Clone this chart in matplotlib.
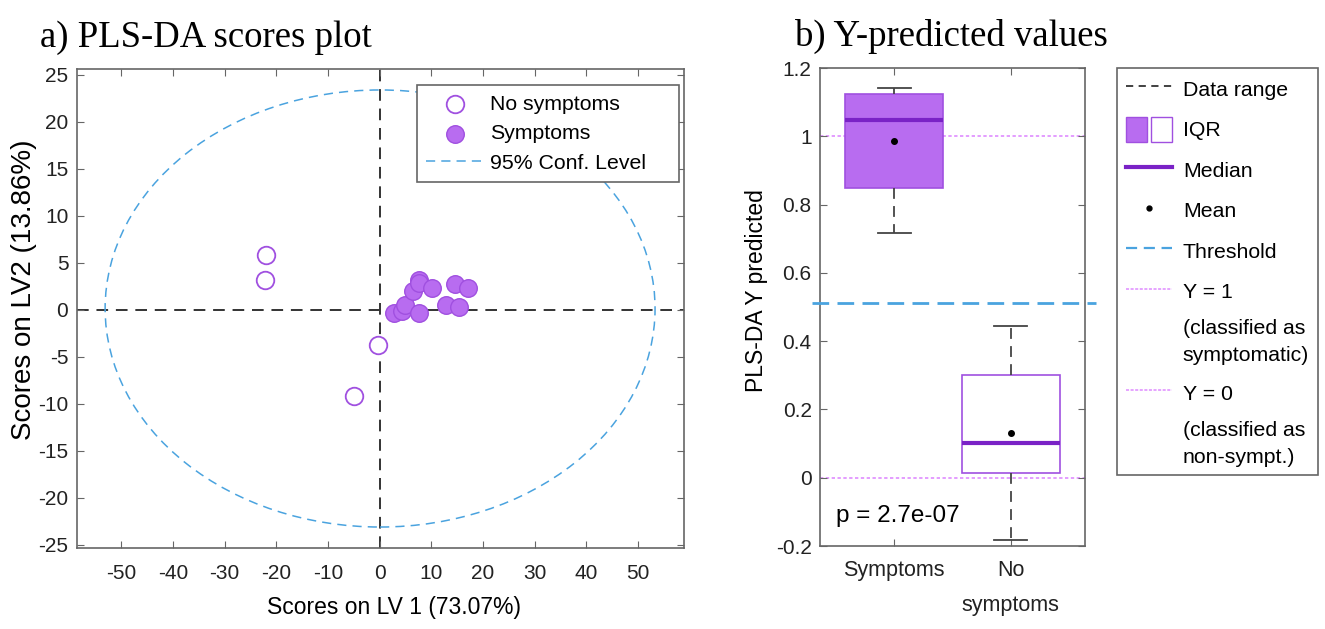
# -*- coding: utf-8 -*-

import matplotlib
matplotlib.use('Agg')
import matplotlib.pyplot as plt
import numpy as np
from matplotlib.patches import Ellipse, Patch
from matplotlib.lines import Line2D
from matplotlib.legend_handler import HandlerTuple
import matplotlib.transforms as mtrans

plt.rcParams['font.family'] = ['Liberation Sans', 'DejaVu Sans']
plt.rcParams['axes.unicode_minus'] = False

# a) scores
no_sym_lv1 = [-22.0, -22.1, -0.4, -4.9]
no_sym_lv2 = [5.8, 3.2, -3.7, -9.2]
sym_lv1 = [2.7, 4.3, 4.9, 7.7, 6.4, 7.7, 7.7, 10.1, 14.6, 17.1, 12.9, 15.3]
sym_lv2 = [-0.35, -0.1, 0.5, -0.3, 2.0, 3.2, 2.9, 2.3, 2.8, 2.3, 0.5, 0.35]
ell_center = (0.1, 0.15)
ell_radius = (53.2, 23.25)

# b) predicted values
groups = ['Symptoms', 'No\nsymptoms']
q1 = [0.849, 0.013]
q3 = [1.124, 0.300]
med = [1.047, 0.103]
mean = [0.987, 0.132]
whislo = [0.716, -0.181]
whishi = [1.140, 0.445]
threshold = 0.513
p_text = 'p = 2.7e-07'

purple = '#b86cf0'
purple_edge = '#a050e0'
median_col = '#7a22c6'
blue = '#4aa3df'
pink = '#df8cff'
grey = '#666666'

fig = plt.figure(figsize=(13.25, 6.29), dpi=100)

ax1 = fig.add_axes([76.7/1325, 1-547.7/629, (684-76.7)/1325, (547.7-69.3)/629])
ax1.axvline(0, color='#333333', ls=(0, (6, 4)), lw=1.4, zorder=1)
ax1.axhline(0, color='#333333', ls=(0, (6, 4)), lw=1.4, zorder=1)
ax1.add_patch(Ellipse(ell_center, 2*ell_radius[0], 2*ell_radius[1], fill=False,
                      ec=blue, ls=(0, (6, 4)), lw=1.1, zorder=1))
ax1.scatter(no_sym_lv1, no_sym_lv2, s=160, facecolor='white', edgecolor=purple_edge,
            lw=1.3, zorder=3, label='No symptoms')
ax1.scatter(sym_lv1, sym_lv2, s=160, facecolor=purple, edgecolor=purple_edge,
            lw=1.0, zorder=3, label='Symptoms')
h_conf = Line2D([], [], color=blue, ls=(0, (6, 4)), lw=1.1)
h1, l1 = ax1.get_legend_handles_labels()
leg1 = ax1.legend(h1 + [h_conf], l1 + ['95% Conf. Level    '], loc='upper right',
                  bbox_to_anchor=(0.992, 0.967), borderaxespad=0, fontsize=15.3,
                  labelspacing=0.5, handlelength=2.7, handletextpad=0.3,
                  borderpad=0.45, fancybox=False, framealpha=1, edgecolor=grey)
leg1.get_frame().set_linewidth(1.2)
ax1.set_xlim(-58.6, 58.9)
ax1.set_ylim(-25.3, 25.6)
ax1.set_xticks(np.arange(-50, 51, 10))
ax1.set_yticks(np.arange(-25, 26, 5))
ax1.set_xlabel('Scores on LV 1 (73.07%)', fontsize=16.5)
ax1.set_ylabel('Scores on LV2 (13.86%)', fontsize=20)
ax1.xaxis.set_label_coords(0.522, -0.1)
ax1.yaxis.set_label_coords(-0.066, 0.54)
ax1.set_title('a) PLS-DA scores plot', family=['Liberation Serif'], fontsize=26.5,
              loc='left', x=-0.06, pad=16)

ax2 = fig.add_axes([820/1325, 1-546/629, 265/1325, (546-68)/629])
stats = []
for i in range(len(groups)):
    stats.append(dict(med=med[i], q1=q1[i], q3=q3[i], whislo=whislo[i],
                      whishi=whishi[i], mean=mean[i], fliers=[], label=groups[i]))
bp = ax2.bxp(stats, positions=[1, 2], widths=0.84, patch_artist=True, showmeans=True,
             showfliers=False,
             whiskerprops=dict(color='#444444', ls=(0, (6, 4)), lw=1.3),
             capprops=dict(color='#444444', lw=1.3), capwidths=0.28,
             medianprops=dict(color=median_col, lw=3),
             meanprops=dict(marker='o', markerfacecolor='black', markeredgecolor='black',
                            markersize=4), zorder=2)
bp['boxes'][0].set(facecolor=purple, edgecolor=purple_edge, lw=1.2)
bp['boxes'][1].set(facecolor='white', edgecolor=purple_edge, lw=1.2)
ax2.axhline(1, color=pink, ls=(0, (2, 1.5)), lw=1.2, zorder=1)
ax2.axhline(0, color=pink, ls=(0, (2, 1.5)), lw=1.2, zorder=1)
trans = mtrans.blended_transform_factory(ax2.transAxes, ax2.transData)
ax2.plot([-0.03, 1.04], [threshold, threshold], color=blue, ls=(0, (6, 3)), lw=2,
         transform=trans, clip_on=False, zorder=3)
ax2.text(0.06, 0.05, p_text, transform=ax2.transAxes, fontsize=17.5)
ax2.set_xlim(0.364, 2.636)
ax2.set_ylim(-0.2, 1.2)
ax2.set_yticks([-0.2, 0, 0.2, 0.4, 0.6, 0.8, 1, 1.2])
ax2.set_yticklabels(['-0.2', '0', '0.2', '0.4', '0.6', '0.8', '1', '1.2'])
ax2.set_xticks([1, 2])
ax2.set_xticklabels(groups, fontsize=15.5, linespacing=1.9)
ax2.set_ylabel('PLS-DA Y predicted', fontsize=16.5)
ax2.yaxis.set_label_coords(-0.196, 0.535)
ax2.set_title('b) Y-predicted values', family=['Liberation Serif'], fontsize=26.5,
              loc='left', x=-0.095, pad=16)

for ax in (ax1, ax2):
    ax.tick_params(direction='in', top=True, right=True, length=5, color=grey,
                   labelsize=15, labelcolor='#222222')
    ax.tick_params(axis='x', pad=12)
    ax.tick_params(axis='y', pad=6)
    for s in ax.spines.values():
        s.set_color(grey)
        s.set_linewidth(1.2)
ax2.tick_params(axis='x', labelsize=15.5, pad=10)

blank = Line2D([], [], ls='none')
handles = [Line2D([], [], color='#333333', ls=(0, (4, 3)), lw=1.3),
           (Patch(facecolor=purple, edgecolor=purple_edge), Patch(facecolor='white', edgecolor=purple_edge)),
           Line2D([], [], color=median_col, lw=3),
           Line2D([], [], ls='none', marker='o', color='black', markersize=3.5),
           Line2D([], [], color=blue, ls=(0, (5, 3)), lw=1.6),
           Line2D([], [], color=pink, ls=(0, (2, 1)), lw=1.1),
           blank,
           Line2D([], [], color=pink, ls=(0, (2, 1)), lw=1.1),
           blank]
labels = ['Data range', 'IQR', 'Median', 'Mean', 'Threshold', 'Y = 1',
          '(classified as\nsymptomatic)', 'Y = 0', '(classified as\nnon-sympt.)']
leg2 = fig.legend(handles, labels, loc='upper left', bbox_to_anchor=(1117/1325, 1-68/629),
                  borderaxespad=0, fontsize=15.3, labelspacing=0.75, handlelength=2.2,
                  handleheight=1.4, handletextpad=0.5, fancybox=False, framealpha=1,
                  edgecolor=grey, handler_map={tuple: HandlerTuple(ndivide=None, pad=0.2)})
for t in leg2.get_texts():
    t.set_linespacing(1.5)
leg2.get_frame().set_linewidth(1.2)

plt.savefig('out.png', dpi=100)
